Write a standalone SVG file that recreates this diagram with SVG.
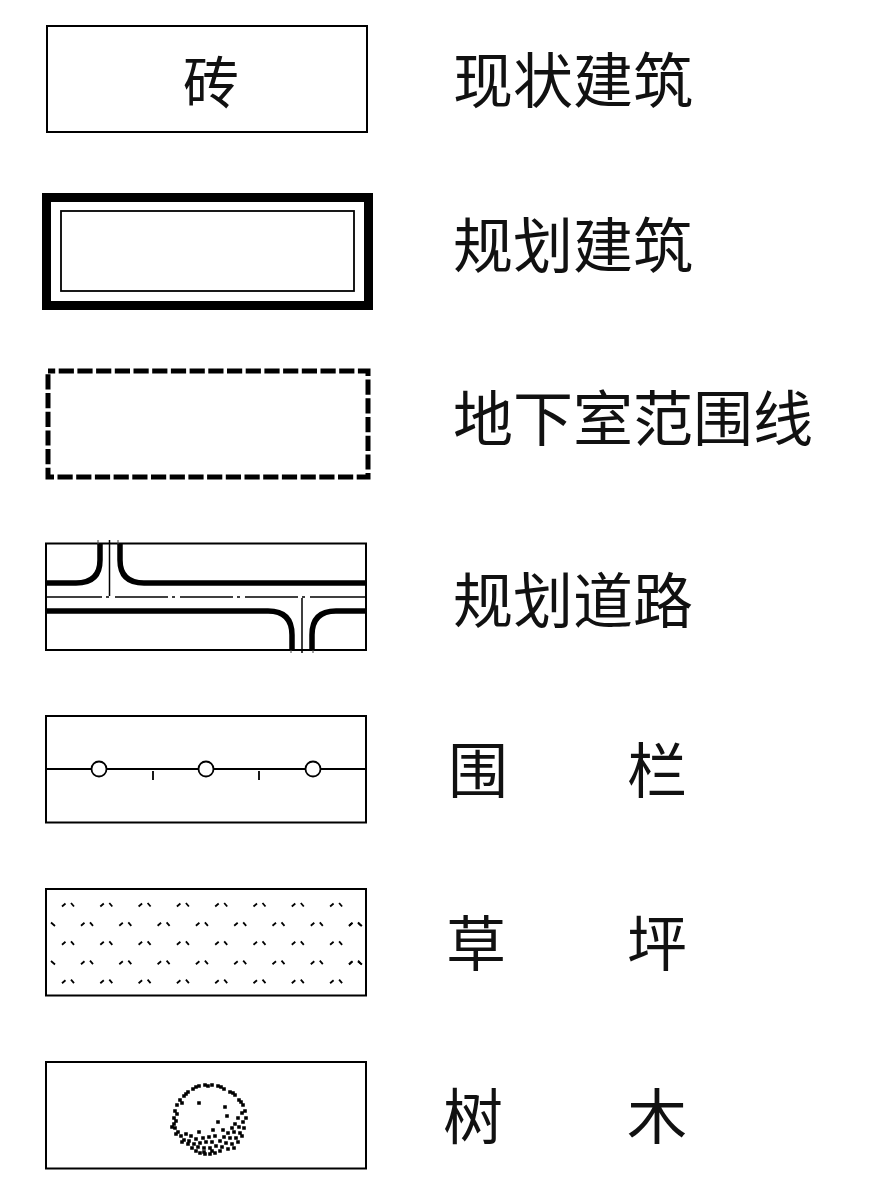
<svg xmlns="http://www.w3.org/2000/svg" xmlns:xlink="http://www.w3.org/1999/xlink" width="877" height="1191" viewBox="0 0 877 1191">
<style>
.box{fill:#fff;stroke:#000;stroke-width:2}
.lbl{font-family:"Noto Sans CJK SC","Noto Sans",sans-serif;font-size:60px;fill:#111}
.thick{fill:none;stroke:#000;stroke-width:5.5}
.thin{fill:none;stroke:#000;stroke-width:1.5}
.g{fill:none;stroke:#000;stroke-width:1.8}
.dots{fill:none;stroke:#000;stroke-width:3.6;stroke-linecap:square}
</style>
<defs>
<g id="pair"><path class="g" d="M0 1.500L3.500-1.500M9 -2L12 1.500"/></g>
<g id="rowA"><use xlink:href="#pair" x="0"/><use xlink:href="#pair" x="38.300"/><use xlink:href="#pair" x="76.600"/><use xlink:href="#pair" x="114.900"/><use xlink:href="#pair" x="153.200"/><use xlink:href="#pair" x="191.500"/><use xlink:href="#pair" x="229.800"/><use xlink:href="#pair" x="268.100"/></g>
</defs>
<rect width="877" height="1191" fill="#fff"/>

<g id="existing-building">
<rect class="box" x="47" y="26" width="320" height="106"/>
<text class="lbl" x="183" y="103" style="font-size:56px">砖</text>
<text class="lbl" x="453" y="103">现状建筑</text>
</g>

<g id="planned-building">
<rect x="46.500" y="197.500" width="322" height="108" fill="#fff" stroke="#000" stroke-width="9"/>
<rect x="61" y="211" width="293" height="80" fill="#fff" stroke="#000" stroke-width="1.800"/>
<text class="lbl" x="453" y="268">规划建筑</text>
</g>

<g id="basement-line">
<rect x="48" y="371" width="320" height="106" fill="#fff" stroke="#000" stroke-width="5" stroke-dasharray="15.200 3.500" stroke-dashoffset="8"/>
<text class="lbl" x="453" y="441">地下室范围线</text>
</g>

<g id="planned-road">
<rect class="box" x="46" y="543.500" width="320" height="106.500"/>
<path class="thick" d="M46 583H76Q100 583 100 560V543"/>
<path class="thick" d="M120 543V560Q120 583 144 583H366"/>
<path class="thick" d="M46 611H268Q292 611 292 635V650"/>
<path class="thick" d="M366 611H336Q312 611 312 635V650"/>
<path class="thin" d="M46 597H102M106 597H109M115 597H168M172 597H175M180 597H233M237 597H240M245 597H298M302 597H305M310 597H366"/>
<path class="thin" d="M109.500 540V596M302 598V653"/>
<path fill="none" stroke="#444" stroke-width="1" d="M98 540V544M118 540V544M291 650V653M313 650V653"/>
<text class="lbl" x="453" y="623">规划道路</text>
</g>

<g id="fence">
<rect class="box" x="46" y="716" width="320" height="106.500"/>
<path class="thin" style="stroke-width:1.800" d="M46 769H91.500M106.500 769H198.500M213.500 769H305.500M320.500 769H366M153 771V780M259 771V780"/>
<circle cx="99" cy="769" r="7.500" fill="#fff" stroke="#000" stroke-width="1.800"/>
<circle cx="206" cy="769" r="7.500" fill="#fff" stroke="#000" stroke-width="1.800"/>
<circle cx="313" cy="769" r="7.500" fill="#fff" stroke="#000" stroke-width="1.800"/>
<text class="lbl" x="448" y="793">围<tspan x="627">栏</tspan></text>
</g>

<g id="lawn">
<rect class="box" x="46" y="889" width="320" height="106.500"/>
<use xlink:href="#rowA" x="62" y="905"/>
<use xlink:href="#rowA" x="62" y="943.300"/>
<use xlink:href="#rowA" x="62" y="981.700"/>
<use xlink:href="#rowA" x="81" y="924.300"/>
<use xlink:href="#rowA" x="81" y="962.700"/>
<path class="g" d="M51 922.500L55 926M51 961L55 964.500M349 926L352 923M358 923L362 926M349 964.500L352 961.500M358 961.500L362 964.500"/>
<text class="lbl" x="446" y="966">草<tspan x="627">坪</tspan></text>
</g>

<g id="tree">
<rect class="box" x="46" y="1062" width="320" height="106.500"/>
<path class="dots" d="M174 1118h0M175 1111h0M177 1105h0M180 1100h0M184 1096h0M188 1092h0M193 1089h0M199 1086h0M205 1085h0M212 1085h0M218 1086h0M224 1089h0M230 1092h0M235 1095h0M239 1100h0M243 1105h0M245 1111h0M246 1118h0M174 1124h0M175 1128h0M178 1132h0M181 1136h0M184 1140h0M188 1144h0M192 1148h0M196 1151h0M200 1153h0M205 1154h0M210 1154h0M215 1153h0M177 1114h0M176 1121h0M182 1103h0M186 1094h0M196 1087h0M208 1086h0M221 1087h0M233 1093h0M241 1102h0M172 1127h0M176 1134h0M199 1103h0M225 1107h0M227 1116h0M218 1122h0M213 1130h0M223 1130h0M199 1132h0M242 1113h0M238 1118h0M243 1122h0M235 1124h0M239 1127h0M232 1128h0M244 1128h0M228 1133h0M234 1132h0M240 1133h0M224 1137h0M230 1138h0M236 1138h0M242 1136h0M186 1134h0M191 1136h0M196 1139h0M203 1138h0M209 1137h0M215 1136h0M220 1141h0M226 1143h0M232 1144h0M238 1142h0M182 1142h0M189 1141h0M194 1144h0M200 1143h0M206 1142h0M212 1142h0M216 1146h0M222 1147h0M228 1149h0M234 1148h0M198 1147h0M204 1148h0M210 1148h0M204 1152h0M212 1151h0M220 1151h0"/>
<text class="lbl" x="443" y="1139">树<tspan x="627">木</tspan></text>
</g>
</svg>
